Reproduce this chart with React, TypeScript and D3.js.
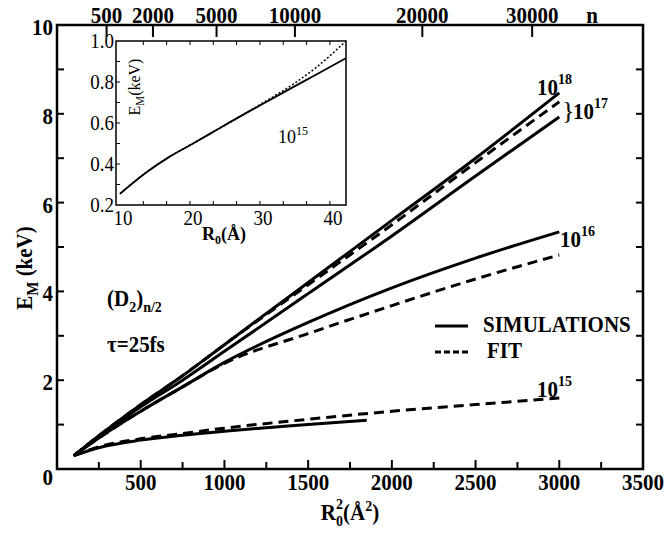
import React from "react";
import * as d3 from "d3";

// ---------- data ----------
const xTicksMain = [0, 500, 1000, 1500, 2000, 2500, 3000, 3500];
const yTicksMain = [0, 2, 4, 6, 8, 10];
const nTickLabels = ["500", "2000", "5000", "10000", "20000", "30000"];
const nTickR2 = [296, 573, 953, 1421, 2182, 2838];

const xs = [100, 250, 500, 750, 1000, 1500, 2000, 2500, 3000];
const sim1e18 = [0.3, 0.75, 1.45, 2.1, 2.8, 4.2, 5.6, 7.0, 8.47];
const fit1e17 = [0.3, 0.75, 1.45, 2.1, 2.8, 4.15, 5.5, 6.9, 8.27];
const sim1e17 = [0.3, 0.72, 1.4, 2.0, 2.65, 3.95, 5.25, 6.6, 7.93];
const sim1e16 = [0.3, 0.7, 1.3, 1.85, 2.4, 3.3, 4.08, 4.75, 5.34];
const fit1e16 = [0.3, 0.7, 1.3, 1.85, 2.38, 3.05, 3.68, 4.28, 4.82];
const xs15sim = [100, 250, 500, 750, 1000, 1250, 1500, 1850];
const sim1e15 = [0.3, 0.48, 0.65, 0.76, 0.85, 0.93, 1.0, 1.1];
const fit1e15 = [0.3, 0.5, 0.68, 0.8, 0.92, 1.12, 1.3, 1.45, 1.6];

const insetR0 = [10, 13.6, 17.1, 20.5, 23.8, 27.1, 30.5, 35, 38, 42.3];
const insetSim = [0.255, 0.355, 0.436, 0.501, 0.566, 0.631, 0.695, 0.78, 0.835, 0.916];
const insetFit = [0.255, 0.355, 0.436, 0.501, 0.566, 0.631, 0.7, 0.795, 0.87, 1.0];
const insetXTicks = [10, 20, 30, 40];
const insetYTicks = [0.2, 0.4, 0.6, 0.8, 1.0];

// ---------- layout ----------
const W = 664, H = 533;
const L = 57, R = 643, T0 = 25, B = 469;
const iL = 116, iR = 346, iT = 41, iB = 205;

const FONT = "Liberation Serif, Times New Roman, Times, serif";

function Txt({ x, y, children, size = 21, bold = true, anchor = "middle", sy = 1.1, rot = 0 }: any) {
  return (
    <text
      transform={`translate(${x},${y}) rotate(${rot}) scale(1,${sy})`}
      style={{ fontFamily: FONT, fontSize: size, fontWeight: bold ? 700 : 400 }}
      textAnchor={anchor}
      fill="#000"
    >
      {children}
    </text>
  );
}

export default function App() {
  const x = d3.scaleLinear().domain([0, 3500]).range([L, R]);
  const y = d3.scaleLinear().domain([0, 10]).range([B, T0]);
  const line = (xv: number[], yv: number[]) =>
    d3.line<number>().x((_, i) => x(xv[i])).y((d) => y(d)).curve(d3.curveMonotoneX)(yv) || "";

  const ix = d3.scaleLinear().domain([9.43, 42.3]).range([iL, iR]);
  const iy = d3.scaleLinear().domain([0.2, 1.0]).range([iB, iT]);
  const iline = (xv: number[], yv: number[]) =>
    d3.line<number>().x((_, i) => ix(xv[i])).y((d) => iy(d)).curve(d3.curveMonotoneX)(yv) || "";

  const minorX = d3.range(250, 3500, 250);
  const minorY = d3.range(1, 10, 1);
  const insetMinorX = d3.range(10 + 10 / 3, 42, 10 / 3);
  const insetMinorY = d3.range(0.3, 1.0, 0.1);

  const dash = "10,6";
  return (
    <svg width={W} height={H} style={{ position: "absolute", left: 0, top: 0, background: "#fff" }}>
      <rect x={0} y={0} width={W} height={H} fill="#fff" />
      {/* main frame */}
      <rect x={L} y={T0} width={R - L} height={B - T0} fill="none" stroke="#000" strokeWidth={2.5} />
      {/* bottom ticks */}
      {minorX.map((v) => (
        <line key={"bx" + v} x1={x(v)} x2={x(v)} y1={B} y2={B - (v % 500 === 0 ? 9 : 7)} stroke="#000" strokeWidth={2} />
      ))}
      {/* left & right ticks */}
      {minorY.map((v) => (
        <g key={"ly" + v}>
          <line x1={L} x2={L + 7} y1={y(v)} y2={y(v)} stroke="#000" strokeWidth={2} />
          <line x1={R} x2={R - 7} y1={y(v)} y2={y(v)} stroke="#000" strokeWidth={2} />
        </g>
      ))}
      {/* top n ticks */}
      {nTickR2.map((v, i) => (
        <g key={"n" + i}>
          <line x1={x(v)} x2={x(v)} y1={T0} y2={T0 + 12} stroke="#000" strokeWidth={2} />
          <Txt x={x(v)} y={T0 - 2}>{nTickLabels[i]}</Txt>
        </g>
      ))}
      <Txt x={592} y={T0 - 2}>n</Txt>
      {/* x tick labels */}
      {xTicksMain.filter((v) => v > 0).map((v) => (
        <Txt key={"xl" + v} x={x(v)} y={B + 21}>{v}</Txt>
      ))}
      {/* y tick labels */}
      {yTicksMain.map((v) => (
        <Txt key={"yl" + v} x={L - 4} y={y(v) + (v === 0 ? 16 : 10)} anchor="end">{v}</Txt>
      ))}
      {/* axis titles */}
      <Txt x={32} y={268} rot={-90}>
        E<tspan style={{ fontSize: 15 }} dy={5}>M</tspan><tspan dy={-5}> (keV)</tspan>
      </Txt>
      <Txt x={350} y={520}>
        R<tspan style={{ fontSize: 14 }} dy={5}>0</tspan><tspan style={{ fontSize: 14 }} dx={-7} dy={-15}>2</tspan>
        <tspan dy={10}>(Å</tspan><tspan style={{ fontSize: 14 }} dy={-8}>2</tspan><tspan dy={8}>)</tspan>
      </Txt>

      {/* main curves */}
      <g fill="none" stroke="#000" strokeWidth={3}>
        <path d={line(xs, sim1e18)} />
        <path d={line(xs, fit1e17)} strokeDasharray={dash} />
        <path d={line(xs, sim1e17)} />
        <path d={line(xs, sim1e16)} />
        <path d={line(xs, fit1e16)} strokeDasharray={dash} />
        <path d={line(xs15sim, sim1e15)} />
        <path d={line(xs, fit1e15)} strokeDasharray={dash} />
      </g>

      {/* curve labels */}
      <Txt x={537} y={95} anchor="start">10<tspan style={{ fontSize: 14 }} dy={-10}>18</tspan></Txt>
      <Txt x={562} y={119} anchor="start" bold={false} size={26} sy={1.0}>{"}"}</Txt>
      <Txt x={573} y={119} anchor="start">10<tspan style={{ fontSize: 14 }} dy={-10}>17</tspan></Txt>
      <Txt x={560} y={247} anchor="start">10<tspan style={{ fontSize: 14 }} dy={-10}>16</tspan></Txt>
      <Txt x={537} y={397} anchor="start">10<tspan style={{ fontSize: 14 }} dy={-10}>15</tspan></Txt>

      {/* text annotations */}
      <Txt x={107} y={306} anchor="start">(D<tspan style={{ fontSize: 14 }} dy={5}>2</tspan><tspan dy={-5}>)</tspan><tspan style={{ fontSize: 14 }} dy={5}>n/2</tspan></Txt>
      <Txt x={107} y={352} anchor="start">τ=25fs</Txt>

      {/* legend */}
      <line x1={435} x2={468} y1={326} y2={326} stroke="#000" strokeWidth={3} />
      <Txt x={483} y={332} anchor="start">SIMULATIONS</Txt>
      <line x1={435} x2={470} y1={352} y2={352} stroke="#000" strokeWidth={3} strokeDasharray="6,3" />
      <Txt x={487} y={358} anchor="start">FIT</Txt>

      {/* inset */}
      <rect x={iL} y={iT} width={iR - iL} height={iB - iT} fill="#fff" stroke="#000" strokeWidth={1.5} />
      {insetMinorX.map((v, i) => (
        <g key={"ix" + i}>
          <line x1={ix(v)} x2={ix(v)} y1={iB} y2={iB - 4} stroke="#000" strokeWidth={1} />
          <line x1={ix(v)} x2={ix(v)} y1={iT} y2={iT + 4} stroke="#000" strokeWidth={1} />
        </g>
      ))}
      {insetMinorY.map((v, i) => (
        <line key={"iy" + i} x1={iL} x2={iL + 4} y1={iy(v)} y2={iy(v)} stroke="#000" strokeWidth={1} />
      ))}
      {insetXTicks.map((v) => (
        <Txt key={"ixl" + v} x={ix(v) + 3} y={iB + 20} bold={false} size={19} sy={1.05}>{v}</Txt>
      ))}
      {insetYTicks.map((v) => (
        <Txt key={"iyl" + v} x={iL - 2} y={iy(v) + 7} anchor="end" bold={false} size={19} sy={1.05}>{v.toFixed(1)}</Txt>
      ))}
      <Txt x={140} y={87} rot={-90} bold={false} size={16} sy={1.1}>
        E<tspan style={{ fontSize: 11 }} dy={4}>M</tspan><tspan dy={-4}>(keV)</tspan>
      </Txt>
      <Txt x={224} y={240} size={18} sy={1.1}>
        R<tspan style={{ fontSize: 12 }} dy={4}>0</tspan><tspan dy={-4}>(Å)</tspan>
      </Txt>
      <Txt x={278} y={143} anchor="start" bold={false} size={18} sy={1.05}>10<tspan style={{ fontSize: 12 }} dy={-8}>15</tspan></Txt>
      <g fill="none" stroke="#000">
        <path d={iline(insetR0, insetSim)} strokeWidth={1.8} />
        <path d={iline(insetR0, insetFit)} strokeWidth={1.5} strokeDasharray="2,2" />
      </g>
    </svg>
  );
}
